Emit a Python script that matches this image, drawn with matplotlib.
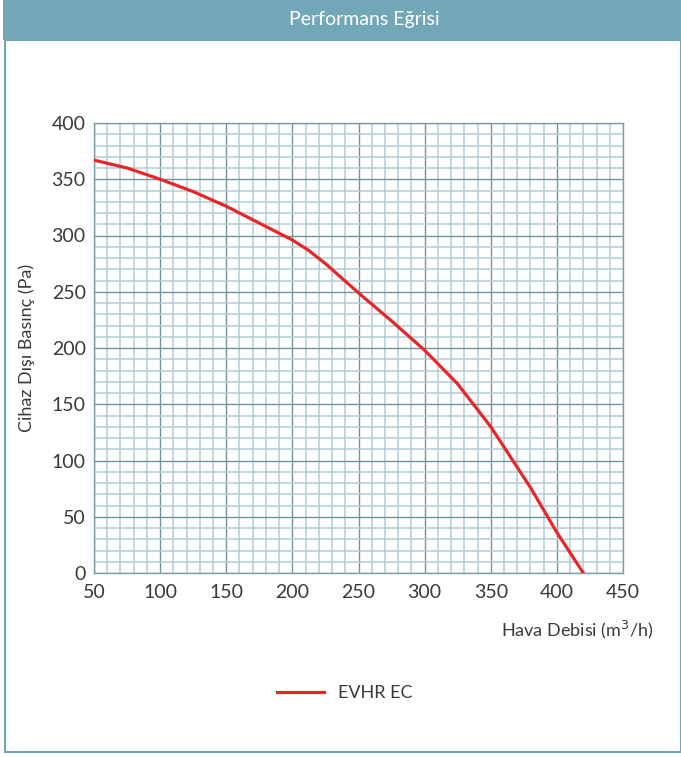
import numpy as np
import matplotlib.pyplot as plt
from matplotlib.patches import Rectangle
from matplotlib.ticker import MultipleLocator

plt.rcParams['font.family'] = ['Lato', 'DejaVu Sans']

# fan curve: air flow (m3/h) vs external static pressure (Pa)
flow = [50, 75, 100, 125, 150, 175, 200, 212, 225, 250, 275, 300, 325, 350, 360, 370, 380, 390, 400, 410, 420]
pressure = [367, 360, 350, 339, 326, 311, 296, 287, 275, 249, 224, 198, 168, 130, 112, 94, 76, 56, 36, 18, 0]
series_name = 'EVHR EC'

x_ticks = [50, 100, 150, 200, 250, 300, 350, 400, 450]
y_ticks = [0, 50, 100, 150, 200, 250, 300, 350, 400]

teal = '#72a7b7'
text_col = '#3a3a3a'

fig = plt.figure(figsize=(6.81, 7.57), dpi=100)

# header band and frame
fig.patches.append(Rectangle((0.005, 1 - 40 / 757), 0.995, 40 / 757, transform=fig.transFigure,
                             facecolor=teal, edgecolor='none', zorder=0))
fig.patches.append(Rectangle((5 / 681, 5 / 757), 1 - 5 / 681, 1 - 45 / 757, transform=fig.transFigure,
                             facecolor='none', edgecolor=teal, linewidth=1.5, zorder=0))
fig.text(0.535, 1 - 20 / 757, 'Performans Eğrisi', color='white', fontsize=14,
         ha='center', va='center')

ax = fig.add_axes([94 / 681, 1 - 573 / 757, 529 / 681, 450 / 757])
ax.plot(flow, pressure, color='#e8262a', linewidth=2.3, label=series_name, zorder=3)

ax.set_xlim(50, 450)
ax.set_ylim(0, 400)
ax.set_xticks(x_ticks)
ax.set_yticks(y_ticks)
ax.xaxis.set_minor_locator(MultipleLocator(10))
ax.yaxis.set_minor_locator(MultipleLocator(10))
ax.grid(which='minor', color='#b2ccd5', linewidth=1.1)
ax.grid(which='major', color='#6f959f', linewidth=1.0)
ax.set_axisbelow(True)
ax.tick_params(which='both', length=0)
ax.tick_params(axis='x', pad=8, labelsize=14, labelcolor=text_col)
ax.tick_params(axis='y', pad=6, labelsize=14, labelcolor=text_col)
for s in ax.spines.values():
    s.set_color('#7f9ea8')
    s.set_linewidth(1.0)

ax.set_ylabel('Cihaz Dışı Basınç (Pa)', fontsize=13, color=text_col, labelpad=12)
fig.text(653 / 681, 1 - 630 / 757, 'Hava Debisi (m$^3$/h)', fontsize=13, color=text_col,
         ha='right', va='center')

fig.legend(loc='center', bbox_to_anchor=(345 / 681, 1 - 693 / 757), frameon=False,
           fontsize=13, handlelength=2.6, labelcolor=text_col)

fig.savefig('out.png', dpi=100)
